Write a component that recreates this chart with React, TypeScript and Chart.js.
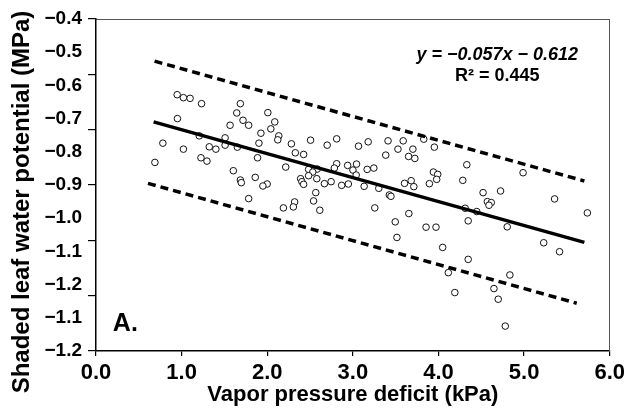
import React, { useEffect, useRef } from "react";
import { Chart, registerables } from "chart.js";

Chart.register(...registerables);

// Scatter observations: vapor pressure deficit (kPa) and shaded leaf water potential (MPa)
const vpd = [
  0.948, 1.021, 1.099, 1.233, 0.951, 0.781, 1.021, 0.688, 1.206, 1.323,
  1.4, 1.226, 1.296, 1.686, 1.644, 1.717, 1.783, 1.566, 2.007, 2.088,
  2.042, 1.926, 1.903, 1.887, 1.508, 1.508, 1.651, 1.604, 1.686, 1.697,
  1.86, 1.999, 1.949, 1.783, 2.135, 2.123, 2.282, 2.328, 2.425, 2.506,
  2.7, 2.811, 2.216, 2.483, 2.584, 2.532, 2.811, 2.784, 2.939, 3.043,
  3.001, 3.039, 3.167, 3.245, 3.066, 3.179, 3.411, 3.527, 3.588, 3.701,
  3.651, 3.724, 3.384, 3.828, 3.952, 3.941, 3.894, 3.604, 3.681, 3.712,
  3.303, 3.426, 3.445, 3.132, 2.869, 2.947, 2.746, 2.668, 2.567, 2.541,
  2.614, 2.32, 2.305, 2.189, 2.39, 2.405, 2.483, 2.579, 2.425, 3.256,
  3.495, 3.654, 3.515, 3.855, 3.971, 4.049, 4.347, 4.115, 4.191, 4.347,
  4.312, 4.447, 4.571, 4.617, 4.59, 4.803, 4.834, 4.648, 4.698, 4.78,
  5.229, 5.414, 5.739, 5.356, 4.331, 3.991, 3.979, 4.284, 4.988, 4.521,
  4.725,
];
const psi = [
  -0.628, -0.637, -0.639, -0.655, -0.7, -0.774, -0.792, -0.832, -0.752, -0.785,
  -0.792, -0.818, -0.828, -0.655, -0.683, -0.705, -0.72, -0.72, -0.682, -0.71,
  -0.731, -0.744, -0.774, -0.818, -0.758, -0.78, -0.786, -0.857, -0.885, -0.893,
  -0.877, -0.897, -0.903, -0.941, -0.752, -0.764, -0.776, -0.803, -0.808, -0.765,
  -0.78, -0.761, -0.846, -0.853, -0.852, -0.861, -0.836, -0.849, -0.841, -0.837,
  -0.855, -0.87, -0.853, -0.849, -0.783, -0.77, -0.767, -0.792, -0.767, -0.792,
  -0.814, -0.82, -0.81, -0.762, -0.786, -0.861, -0.896, -0.895, -0.887, -0.905,
  -0.91, -0.93, -0.934, -0.904, -0.901, -0.897, -0.89, -0.896, -0.923, -0.948,
  -0.976, -0.951, -0.966, -0.969, -0.881, -0.89, -0.872, -0.881, -0.898, -0.969,
  -1.011, -0.986, -1.058, -1.027, -1.027, -1.088, -1.124, -1.164, -1.224, -1.008,
  -0.97, -0.98, -0.95, -0.953, -0.961, -1.026, -1.171, -1.212, -1.244, -1.325,
  -1.074, -1.101, -0.984, -0.942, -0.839, -0.868, -0.883, -0.886, -0.863, -0.923,
  -0.918,
];

// Regression line and the two dashed bounds (end points)
const fitX = [0.673, 5.704];
const fitY = [-0.71, -1.073];
const upperX = [0.684, 5.704];
const upperY = [-0.527, -0.888];
const lowerX = [0.607, 5.615];
const lowerY = [-0.895, -1.256];

// Axis ticks (labels exactly as printed)
const xTickValues = [0, 1, 2, 3, 4, 5, 6];
const xTickLabels = ["0.0", "1.0", "2.0", "3.0", "4.0", "5.0", "6.0"];
const yTickValues = [-1.4, -1.3, -1.2, -1.1, -1.0, -0.9, -0.8, -0.7, -0.6, -0.5, -0.4];
const yTickLabels = ["−1.2", "−1.1", "−1.2", "−1.1", "−1.0", "−0.9", "−0.8", "−0.7", "−0.6", "−0.5", "−0.4"];
const yMarkSteps = [0, 1, 2, 3, 4, 5, 6];

const xTitle = "Vapor pressure deficit (kPa)";
const yTitle = "Shaded leaf water potential (MPa)";
const eqText = "y = −0.057x − 0.612";
const r2Text = "R² = 0.445";
const panelText = "A.";

// Annotation anchors in data units
const eqAnchor = { x: 4.687, y: -0.508 };
const r2Anchor = { x: 4.687, y: -0.572 };
const panelAnchor = { x: 0.197, y: -1.319 };

const FONT = "'Liberation Sans', Arial, Helvetica, sans-serif";

const toPts = (xs: number[], ys: number[]) => xs.map((x, i) => ({ x, y: ys[i] }));

const textPlugin = {
  id: "textPlugin",
  afterDraw(chart: any) {
    const { ctx, scales } = chart;
    const x = scales.x;
    const y = scales.y;
    ctx.save();
    ctx.fillStyle = "#000";
    ctx.textBaseline = "middle";
    ctx.textAlign = "center";
    ctx.font = `italic bold 18px ${FONT}`;
    ctx.fillText(eqText, x.getPixelForValue(eqAnchor.x), y.getPixelForValue(eqAnchor.y));
    ctx.font = `bold 18px ${FONT}`;
    ctx.fillText(r2Text, x.getPixelForValue(r2Anchor.x), y.getPixelForValue(r2Anchor.y));
    ctx.textAlign = "left";
    ctx.font = `bold 25px ${FONT}`;
    ctx.fillText(panelText, x.getPixelForValue(panelAnchor.x), y.getPixelForValue(panelAnchor.y));
    // vertical axis title
    ctx.translate(22.5, 202);
    ctx.rotate(-Math.PI / 2);
    ctx.textAlign = "center";
    ctx.font = `bold 24px ${FONT}`;
    ctx.fillText(yTitle, 0, 0);
    ctx.restore();
  },
};

export default function App() {
  const ref = useRef<HTMLCanvasElement>(null);
  useEffect(() => {
    if (!ref.current) return;
    const chart = new Chart(ref.current, {
      type: "scatter",
      data: {
        datasets: [
          {
            data: toPts(fitX, fitY),
            showLine: true,
            borderColor: "#000",
            borderWidth: 3.5,
            pointRadius: 0,
            order: 0,
          },
          {
            data: toPts(upperX, upperY),
            showLine: true,
            borderColor: "#000",
            borderWidth: 3.5,
            borderDash: [8, 5],
            pointRadius: 0,
            order: 0,
          },
          {
            data: toPts(lowerX, lowerY),
            showLine: true,
            borderColor: "#000",
            borderWidth: 3.5,
            borderDash: [8, 5],
            pointRadius: 0,
            order: 0,
          },
          {
            data: toPts(vpd, psi),
            pointRadius: 3.3,
            pointBorderWidth: 1,
            borderColor: "#111",
            backgroundColor: "#fff",
            order: 5,
          },
        ],
      },
      options: {
        animation: false,
        responsive: true,
        maintainAspectRatio: false,
        layout: { padding: { top: 19, right: 16, bottom: 0, left: 0 } },
        plugins: { legend: { display: false }, tooltip: { enabled: false } },
        scales: {
          x: {
            type: "linear",
            position: "bottom",
            min: 0,
            max: 6,
            afterBuildTicks: (s: any) => {
              s.ticks = xTickValues.map((v) => ({ value: v }));
            },
            ticks: {
              callback: (_v: any, i: number) => xTickLabels[i],
              font: { family: FONT, size: 22, weight: "bold" },
              color: "#000",
              padding: 4,
              maxRotation: 0,
              autoSkip: false,
            },
            grid: { drawOnChartArea: false, drawTicks: true, tickLength: 5, color: "#000", lineWidth: 1.2 },
            border: { display: true, color: "#000", width: 1.5 },
            title: {
              display: true,
              text: xTitle,
              color: "#000",
              font: { family: FONT, size: 22, weight: "bold" },
              padding: { top: 0, bottom: 0 },
            },
            afterFit: (s: any) => {
              s.height = 57;
            },
          },
          x2: {
            type: "linear",
            position: "top",
            min: 0,
            max: 6,
            ticks: { display: false },
            grid: { display: false, drawTicks: false },
            border: { display: true, color: "#555", width: 1 },
            afterFit: (s: any) => {
              s.height = 0;
            },
          },
          y: {
            type: "linear",
            position: "left",
            min: -1.4,
            max: -0.4,
            weight: 10,
            afterBuildTicks: (s: any) => {
              s.ticks = yTickValues.map((v) => ({ value: v }));
            },
            ticks: {
              callback: (_v: any, i: number) => yTickLabels[i],
              font: { family: FONT, size: 19, weight: "bold" },
              color: "#000",
              padding: 5,
              autoSkip: false,
            },
            grid: { display: false, drawTicks: false },
            border: { display: false },
            afterFit: (s: any) => {
              s.width = 87;
            },
          },
          yt: {
            type: "linear",
            position: "left",
            min: 0,
            max: 6,
            weight: 0,
            afterBuildTicks: (s: any) => {
              s.ticks = yMarkSteps.map((v) => ({ value: v }));
            },
            ticks: { display: false },
            grid: { display: true, drawOnChartArea: false, drawTicks: true, tickLength: 8, color: "#000", lineWidth: 1.2 },
            border: { display: true, color: "#000", width: 1.5 },
            afterFit: (s: any) => {
              s.width = 9;
            },
          },
          y2: {
            type: "linear",
            position: "right",
            min: 0,
            max: 1,
            ticks: { display: false },
            grid: { display: false, drawTicks: false },
            border: { display: true, color: "#555", width: 1 },
            afterFit: (s: any) => {
              s.width = 0;
            },
          },
        },
      } as any,
      plugins: [textPlugin],
    });
    return () => chart.destroy();
  }, []);
  return (
    <div style={{ position: "absolute", left: 0, top: 0, width: 629, height: 408, background: "#fff" }}>
      <canvas ref={ref} />
    </div>
  );
}
